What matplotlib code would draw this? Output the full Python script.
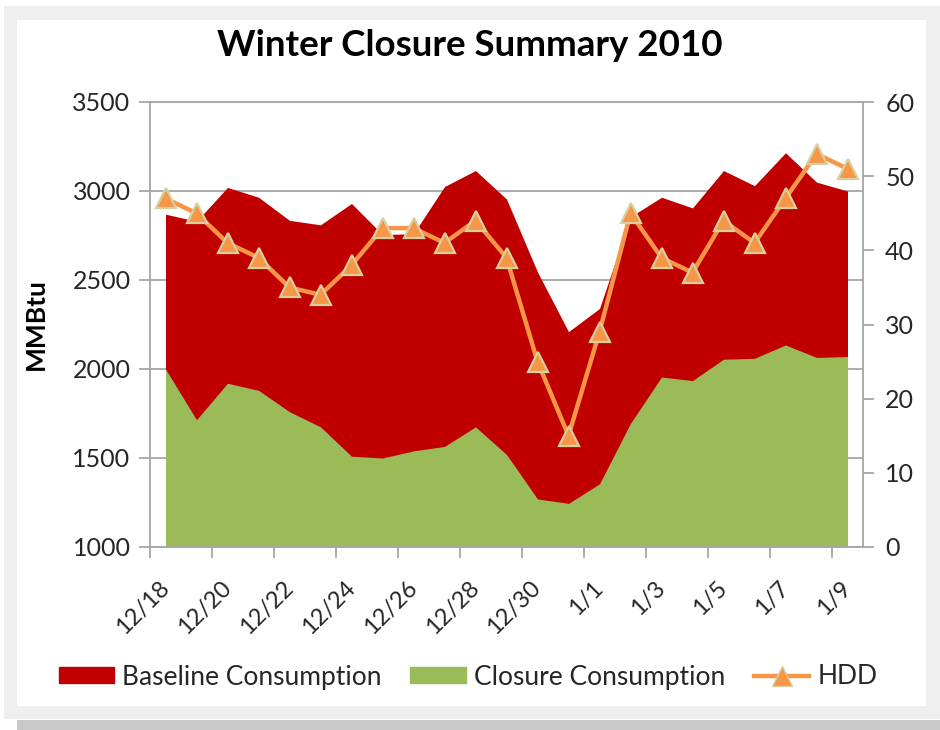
import matplotlib.pyplot as plt
from matplotlib.patches import Rectangle, Patch
from matplotlib.lines import Line2D

days = ['12/18', '12/19', '12/20', '12/21', '12/22', '12/23', '12/24', '12/25',
        '12/26', '12/27', '12/28', '12/29', '12/30', '12/31', '1/1', '1/2',
        '1/3', '1/4', '1/5', '1/6', '1/7', '1/8', '1/9']
baseline = [2870, 2830, 3020, 2965, 2835, 2810, 2930, 2755, 2760, 3025, 3115, 2955,
            2545, 2210, 2340, 2855, 2965, 2905, 3115, 3030, 3215, 3050, 3000]
closure = [2000, 1715, 1920, 1880, 1760, 1675, 1510, 1500, 1540, 1565, 1675, 1520,
           1270, 1245, 1355, 1695, 1955, 1935, 2055, 2060, 2135, 2065, 2070]
hdd = [47, 45, 41, 39, 35, 34, 38, 43, 43, 41, 44, 39,
       25, 15, 29, 45, 39, 37, 44, 41, 47, 53, 51]

RED = '#C00000'
GREEN = '#9BBB59'
ORANGE = '#F79646'
GRAY = '#A6A6A6'
TXT = '#262626'

plt.rcParams['font.family'] = ['Lato', 'DejaVu Sans']

W, H = 940, 730
fig = plt.figure(figsize=(W / 100, H / 100), dpi=100)


def box(x0, y0, x1, y1, color):
    fig.add_artist(Rectangle((x0 / W, 1 - y1 / H), (x1 - x0) / W, (y1 - y0) / H,
                             transform=fig.transFigure, color=color, lw=0, zorder=-10))


# frame around the chart
box(4, 6, 940, 719, '#EFEFEF')
box(17, 20, 926, 706, 'white')
box(17, 720, 940, 730, '#C8C8C8')

ax = fig.add_axes([150 / W, 1 - 547 / H, 713 / W, 445 / H])
ax.patch.set_alpha(0)
x = list(range(len(days)))
ax.fill_between(x, 0, baseline, color=RED, lw=0)
ax.fill_between(x, 0, closure, color=GREEN, lw=0)
ax.set_xlim(-0.5, len(days) - 0.5)
ax.set_ylim(1000, 3500)
ax.set_yticks(range(1000, 3501, 500))
ax.grid(axis='y', color=GRAY, lw=1.3)
ax.set_axisbelow(True)
for s in ['left', 'bottom', 'top']:
    ax.spines[s].set_color(GRAY)
    ax.spines[s].set_linewidth(1.3)
ax.spines['right'].set_visible(False)

ax.set_xticks(x[::2])
ax.set_xticklabels(days[::2], rotation=45, ha='right', va='center',
                   rotation_mode='anchor', fontsize=17, color=TXT)
ax.tick_params(axis='x', length=0, pad=27)
ax.set_xticks([i - 0.5 for i in x[::2]], minor=True)
ax.tick_params(axis='x', which='minor', length=8, color=GRAY, width=1.3)
ax.tick_params(axis='y', length=8, color=GRAY, width=1.3, labelsize=18,
               labelcolor=TXT, pad=6)
ax.set_ylabel('MMBtu', fontsize=19, fontweight='bold', labelpad=18)

ax2 = ax.twinx()
ax2.plot(x, hdd, color=ORANGE, lw=3.2, marker='^', ms=15, mfc=ORANGE,
         mec='#D6CFA0', mew=1.6, clip_on=False)
ax2.set_ylim(0, 60)
ax2.set_yticks(range(0, 61, 10))
for s in ['left', 'top', 'bottom']:
    ax2.spines[s].set_visible(False)
ax2.spines['right'].set_color(GRAY)
ax2.spines['right'].set_linewidth(1.3)
ax2.tick_params(axis='y', length=8, color=GRAY, width=1.3, labelsize=18,
                labelcolor=TXT, pad=8)

fig.text(470 / W, 1 - 45 / H, 'Winter Closure Summary 2010', ha='center', va='center',
         fontsize=26.5, fontweight='bold', color='black')

handles = [Patch(color=RED), Patch(color=GREEN),
           Line2D([], [], color=ORANGE, lw=3.2, marker='^', ms=14, mfc=ORANGE, mec='#D6CFA0')]
labels = ['Baseline Consumption', 'Closure Consumption', 'HDD']
fig.legend(handles, labels, loc='center', bbox_to_anchor=(468 / W, 1 - 677 / H), ncol=3,
           frameon=False, fontsize=19, handlelength=2.1, handleheight=0.55,
           handletextpad=0.3, columnspacing=1.1, labelcolor=TXT)

fig.savefig('out.png', dpi=100)
